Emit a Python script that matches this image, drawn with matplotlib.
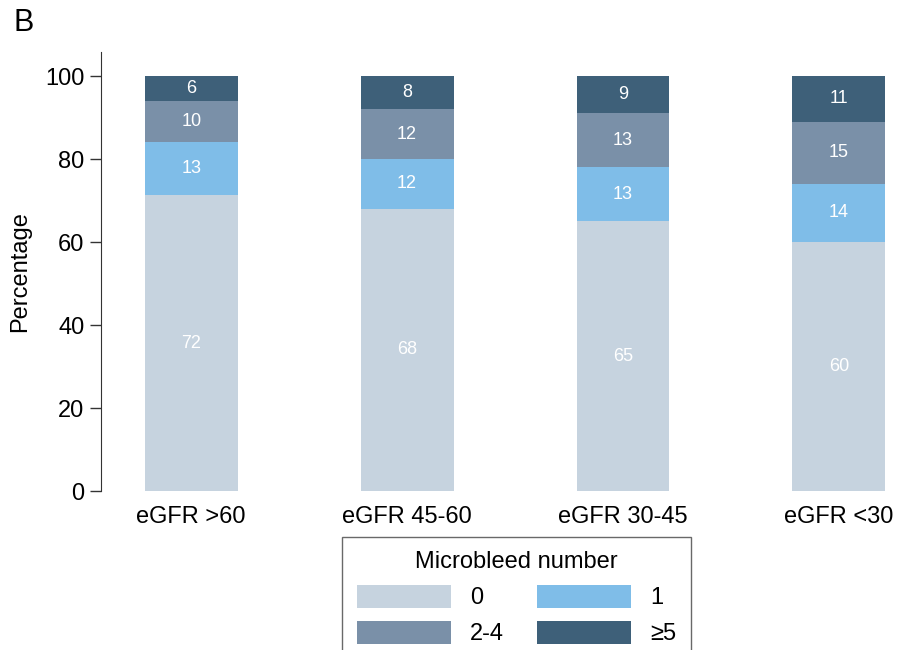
import numpy as np
import matplotlib.pyplot as plt

plt.rcParams['font.family'] = ['Liberation Sans', 'DejaVu Sans']

groups = ['eGFR >60', 'eGFR 45-60', 'eGFR 30-45', 'eGFR <30']
categories = ['0', '1', '2-4', '\u22655']
pct_0 = [72, 68, 65, 60]
pct_1 = [13, 12, 13, 14]
pct_24 = [10, 12, 13, 15]
pct_5 = [6, 8, 9, 11]
y_ticks = [0, 20, 40, 60, 80, 100]

colors = ['#c6d3df', '#7fbde8', '#7a90a8', '#3e6079']

if __name__ == "__main__":
    fig = plt.figure(figsize=(8.99, 6.5), dpi=100)
    ax = fig.add_axes([101 / 899, 1 - 491 / 650, (895 - 101) / 899, (491 - 52) / 650])

    series = np.array([pct_0, pct_1, pct_24, pct_5], dtype=float)
    # labels are rounded, stack heights normalised to 100
    heights = series / series.sum(axis=0) * 100
    x = np.arange(len(groups))
    bottom = np.zeros(len(groups))
    handles = []
    for i, cat in enumerate(categories):
        bars = ax.bar(x, heights[i], bottom=bottom, width=0.43, color=colors[i],
                      label=cat, linewidth=0)
        handles.append(bars)
        ax.bar_label(bars, labels=[str(int(v)) for v in series[i]], label_type='center',
                     color='white', fontsize=13)
        bottom += heights[i]

    ax.set_xlim(-0.418, 3.26)
    ax.set_ylim(0, 105.8)
    ax.set_yticks(y_ticks)
    ax.set_xticks(x)
    ax.set_xticklabels(groups)
    for s in ['top', 'right', 'bottom']:
        ax.spines[s].set_visible(False)
    ax.spines['left'].set_color('#333333')
    ax.spines['left'].set_bounds(0, 105.8)
    ax.tick_params(axis='y', length=8, width=1, color='#333333', labelsize=17, pad=4)
    ax.tick_params(axis='x', length=0, labelsize=17, pad=11)
    ax.set_ylabel('Percentage', fontsize=17, labelpad=10)

    fig.text(13 / 899, 1 - 23 / 650, 'B', fontsize=22, va='center', ha='left')

    # row-major order in the legend: 0, 1 / 2-4, >=5
    order = [0, 2, 1, 3]
    leg = fig.legend([handles[k] for k in order], [categories[k] for k in order],
                     loc='upper center', bbox_to_anchor=(516.5 / 899, 1 - 537 / 650),
                     borderaxespad=0,
                     ncol=2, title='Microbleed number', title_fontsize=17, fontsize=17,
                     handlelength=4.0, handleheight=1.1, columnspacing=1.4,
                     frameon=True, fancybox=False, edgecolor='#444444', borderpad=0.6,
                     labelspacing=0.5)
    leg.get_frame().set_linewidth(1)

    plt.savefig('out.png', dpi=100)
